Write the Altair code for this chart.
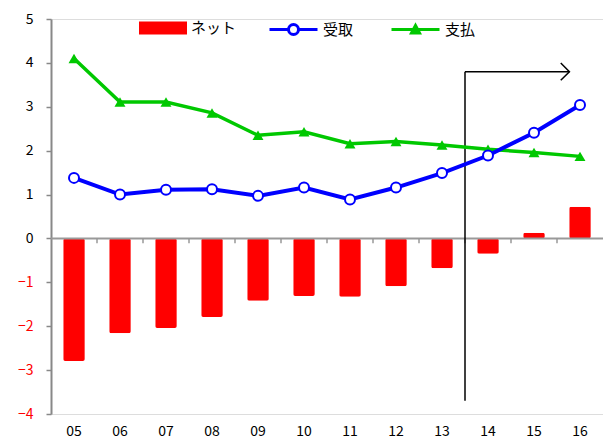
import altair as alt
import pandas as pd

years = ["05", "06", "07", "08", "09", "10", "11", "12", "13", "14", "15", "16"]
net = [-2.79, -2.16, -2.04, -1.79, -1.42, -1.31, -1.33, -1.09, -0.68, -0.35, 0.13, 0.72]
receipts = [1.38, 1.00, 1.11, 1.12, 0.97, 1.16, 0.89, 1.16, 1.49, 1.89, 2.41, 3.04]
payments = [4.10, 3.11, 3.11, 2.86, 2.35, 2.43, 2.16, 2.21, 2.13, 2.03, 1.96, 1.87]
series_names = ["ネット", "受取", "支払"]
y_ticks = [-4, -3, -2, -1, 0, 1, 2, 3, 4, 5]

# annotation: divider between 13 and 14, arrow toward the right
divider_cat = "14"
divider_top = 3.8
divider_bottom = -3.7
arrow_end_cat = "16"
boundary_cats = years[1:]

FONT = "Noto Sans CJK JP"
RED = "#ff0000"
BLUE = "#0000ff"
GREEN = "#00c800"

df_net = pd.DataFrame({"year": years, "value": net, "series": series_names[0]})
df_rec = pd.DataFrame({"year": years, "value": receipts, "series": series_names[1]})
df_pay = pd.DataFrame({"year": years, "value": payments, "series": series_names[2]})

xscale = alt.Scale(domain=years, paddingInner=0, paddingOuter=0)
yscale = alt.Scale(domain=[-4, 5], nice=False, zero=False)

X = alt.X("year:O", scale=xscale, title=None,
          axis=alt.Axis(domain=False, ticks=False, labelAngle=0, labelPadding=10,
                        labelFont=FONT, labelFontSize=14, labelColor="black"))
Y = alt.Y("value:Q", scale=yscale, title=None,
          axis=alt.Axis(values=y_ticks, grid=False, domainColor="#888888", domainWidth=2,
                        tickColor="#888888", tickSize=5, tickWidth=1.5, labelPadding=13,
                        labelFont=FONT, labelFontSize=14,
                        labelColor={"expr": "datum.value < 0 ? '#ff0000' : '#000000'"}))

bar_path = "M-2.4,-0.65H2.4V0.65H-2.4Z"
rec_path = "M-2.4,0H-0.5A0.5,0.5 0 1,1 0.5,0H2.4M0.5,0A0.5,0.5 0 1,1 -0.5,0"
pay_path = "M-2.4,0H2.4M-0.4,0.35L0,-0.4L0.4,0.35Z"

def leg(x, path, fillc, strokec, sw):
    return alt.Legend(orient="none", legendX=x, legendY=-1, title=None, symbolType=path,
                      symbolSize=400, symbolFillColor=fillc, symbolStrokeColor=strokec,
                      symbolStrokeWidth=sw, labelFont=FONT, labelFontSize=15,
                      labelColor="black", labelOffset=18, padding=0)

bars = alt.Chart(df_net).mark_bar(width=alt.RelativeBandSize(0.47), cornerRadius=2).encode(
    x=X, y=Y,
    color=alt.Color("series:N", scale=alt.Scale(domain=[series_names[0]], range=[RED]),
                    legend=leg(102, bar_path, RED, RED, 0)),
)

zero_df = pd.DataFrame({"y": [0]})
zero_line = alt.Chart(zero_df).mark_rule(color="#999999", strokeWidth=2).encode(y=alt.Y("y:Q", scale=yscale))

tick_df = pd.DataFrame({"year": boundary_cats, "y": [0] * len(boundary_cats), "y2": [-0.11] * len(boundary_cats)})
ticks = alt.Chart(tick_df).mark_rule(color="#999999", strokeWidth=1.5).encode(
    x=alt.X("year:O", scale=xscale, bandPosition=0),
    y=alt.Y("y:Q", scale=yscale), y2="y2:Q")

div_df = pd.DataFrame({"year": [divider_cat], "y": [divider_top], "y2": [divider_bottom]})
divider = alt.Chart(div_df).mark_rule(color="black", strokeWidth=1.5).encode(
    x=alt.X("year:O", scale=xscale, bandPosition=0),
    y=alt.Y("y:Q", scale=yscale), y2="y2:Q")

arrow_df = pd.DataFrame({"year": [divider_cat], "year2": [arrow_end_cat], "y": [divider_top]})
arrow_line = alt.Chart(arrow_df).mark_rule(color="black", strokeWidth=1.5).encode(
    x=alt.X("year:O", scale=xscale, bandPosition=0),
    x2=alt.X2("year2:O", bandPosition=0.27),
    y=alt.Y("y:Q", scale=yscale))
head_df = pd.DataFrame({"year": [arrow_end_cat], "y": [divider_top]})
arrow_head = alt.Chart(head_df).mark_point(
    shape="M-1,-1L0,0L-1,1", size=300, filled=False, color="black", strokeWidth=1.5, opacity=1
).encode(x=alt.X("year:O", scale=xscale, bandPosition=0.27), y=alt.Y("y:Q", scale=yscale))

pay_line = alt.Chart(df_pay).mark_line(strokeWidth=3.5).encode(
    x=X, y=Y,
    stroke=alt.Stroke("series:N", scale=alt.Scale(domain=[series_names[2]], range=[GREEN]),
                      legend=leg(353, pay_path, GREEN, GREEN, 3)))
pay_pts = alt.Chart(df_pay).mark_point(shape="triangle-up", filled=True, color=GREEN, size=120, opacity=1).encode(x=X, y=Y)

rec_line = alt.Chart(df_rec).mark_line(strokeWidth=4).encode(
    x=X, y=Y,
    color=alt.Color("series:N", scale=alt.Scale(domain=[series_names[1]], range=[BLUE]),
                    legend=leg(231, rec_path, "white", BLUE, 3)))
rec_pts = alt.Chart(df_rec).mark_point(shape="circle", filled=True, fill="white", stroke=BLUE,
                                       strokeWidth=2, size=100, opacity=1).encode(x=X, y=Y)

chart = alt.layer(
    bars, zero_line, ticks, divider, arrow_line, arrow_head, pay_line, pay_pts, rec_line, rec_pts
).resolve_scale(color="independent", stroke="independent").properties(
    width=552, height=395,
    autosize=alt.AutoSizeParams(type="none"),
    padding={"left": 43, "top": 11, "right": 0, "bottom": 26}
).configure_view(stroke=None).configure(background="white")

chart.save("out.html", embed_options={"renderer": "svg", "actions": False})
